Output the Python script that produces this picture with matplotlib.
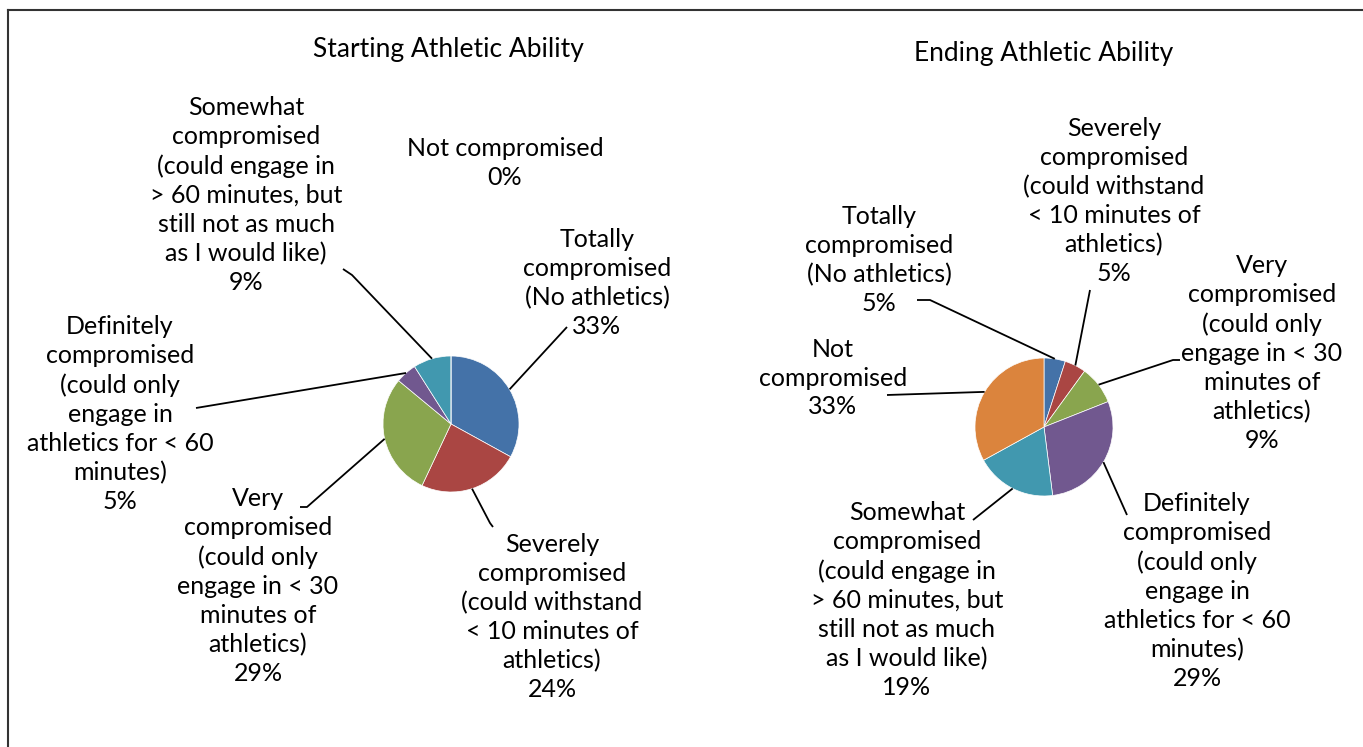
import numpy as np
import matplotlib
matplotlib.use("Agg")
import matplotlib.pyplot as plt
from matplotlib.lines import Line2D

W, H = 1363, 747

# data
colors = ["#4472A8", "#AA4643", "#89A54E", "#71588F", "#4198AF", "#DB843D"]

start_title = "Starting Athletic Ability"
start_names = [
    "Totally\ncompromised\n(No athletics)",
    "Severely\ncompromised\n(could withstand\n< 10 minutes of\nathletics)",
    "Very\ncompromised\n(could only\nengage in < 30\nminutes of\nathletics)",
    "Definitely\ncompromised\n(could only\nengage in\nathletics for < 60\nminutes)",
    "Somewhat\ncompromised\n(could engage in\n> 60 minutes, but\nstill not as much\nas I would like)",
    "Not compromised",
]
start_values = [33, 24, 29, 5, 9, 0]

end_title = "Ending Athletic Ability"
end_names = [
    "Totally\ncompromised\n(No athletics)",
    "Severely\ncompromised\n(could withstand\n< 10 minutes of\nathletics)",
    "Very\ncompromised\n(could only\nengage in < 30\nminutes of\nathletics)",
    "Definitely\ncompromised\n(could only\nengage in\nathletics for < 60\nminutes)",
    "Somewhat\ncompromised\n(could engage in\n> 60 minutes, but\nstill not as much\nas I would like)",
    "Not\ncompromised",
]
end_values = [5, 5, 9, 29, 19, 33]

# layout (pixel positions, y from top)
start_center, start_r, start_title_xy = (451, 424), 68, (448, 50)
start_label_xy = [(597, 283), (552, 617), (258, 586), (120, 414), (246, 195), (505, 163)]
start_leaders = [[(567, 327)], [(493, 527), (490, 523)], [(300, 507), (307, 507)],
                 [(196, 408)], [(343, 269), (352, 275)], None]

end_center, end_r, end_title_xy = (1044, 427), 69, (1044, 53)
end_label_xy = [(879, 260), (1114, 201), (1262, 353), (1197, 591), (907, 600), (833, 378)]
end_leaders = [[(917, 300), (930, 300)], [(1090, 290)], [(1180, 360), (1173, 360)],
               [(1127, 515)], [(973, 520)], [(887, 395)]]

FONT = ["Lato", "DejaVu Sans"]
FS = 18

fig = plt.figure(figsize=(W / 100, H / 100), dpi=100)
ax = fig.add_axes([0, 0, 1, 1])


def draw_pie(values, names, center, r, title, title_xy, label_xy, leaders):
    cx, cy = center[0], H - center[1]
    ax.pie(values, colors=colors, startangle=90, counterclock=False,
           center=(cx, cy), radius=r,
           wedgeprops=dict(edgecolor="white", linewidth=0.5))
    ax.text(title_xy[0], H - title_xy[1], title, ha="center", va="center",
            fontsize=19, family=FONT)
    total = float(sum(values))
    cum = np.cumsum([0] + list(values))
    for i, (name, v) in enumerate(zip(names, values)):
        lx, ly = label_xy[i]
        ax.text(lx, H - ly, f"{name}\n{v}%", ha="center", va="center",
                multialignment="center", fontsize=FS, family=FONT,
                linespacing=1.31)
        if leaders[i] is None:
            continue
        mid = (cum[i] + v / 2) / total * 2 * np.pi
        px, py = cx + r * np.sin(mid), cy + r * np.cos(mid)
        pts = [(x, H - y) for x, y in leaders[i]] + [(px, py)]
        xs, ys = zip(*pts)
        ax.plot(xs, ys, color="black", lw=1.3, solid_capstyle="butt")


draw_pie(start_values, start_names, start_center, start_r, start_title,
         start_title_xy, start_label_xy, start_leaders)
draw_pie(end_values, end_names, end_center, end_r, end_title,
         end_title_xy, end_label_xy, end_leaders)

ax.set_xlim(0, W)
ax.set_ylim(0, H)
ax.set_aspect("equal")
ax.axis("off")

# outer frame (top and left edges visible)
fig.add_artist(Line2D([8 / W, 1], [1 - 10 / H, 1 - 10 / H], color="#333333", lw=1.5))
fig.add_artist(Line2D([8 / W, 8 / W], [0, 1 - 10 / H], color="#333333", lw=1.5))

fig.savefig("out.png", dpi=100)
